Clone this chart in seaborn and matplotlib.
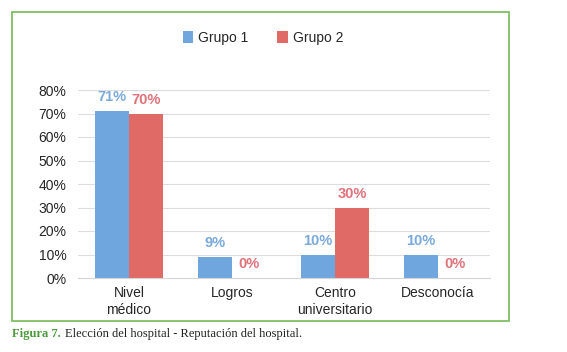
import pandas as pd
import matplotlib.pyplot as plt
import matplotlib.patches as mpatches
import seaborn as sns

# datos
categorias = ['Nivel\nmédico', 'Logros', 'Centro\nuniversitario', 'Desconocía']
grupo1 = [71, 9, 10, 10]
grupo2 = [70, 0, 30, 0]
grupos = ['Grupo 1', 'Grupo 2']
colores = ['#6fa6dd', '#e06a66']
colores_txt = ['#7aaadc', '#e0727a']

df = pd.DataFrame({
    'categoria': categorias * 2,
    'valor': grupo1 + grupo2,
    'grupo': [grupos[0]] * len(categorias) + [grupos[1]] * len(categorias),
})

sns.set_style('white')
plt.rcParams['font.family'] = ['Liberation Sans', 'DejaVu Sans']

fig = plt.figure(figsize=(5.67, 3.52), dpi=100)
ax = fig.add_axes([77.5 / 567, 1 - 278 / 352, (489.5 - 77.5) / 567, (278 - 90) / 352])

sns.barplot(data=df, x='categoria', y='valor', hue='grupo', palette=colores,
            width=0.66, saturation=1, linewidth=0, ax=ax, legend=True)

ax.set_ylim(0, 80)
ax.set_yticks(range(0, 81, 10))
ax.set_yticklabels([f'{v}%' for v in range(0, 81, 10)], fontsize=10)
ax.tick_params(axis='x', labelsize=10, length=0, pad=6)
ax.tick_params(axis='y', length=0, pad=8)
ax.yaxis.grid(True, color='#dddddd', lw=0.8)
ax.set_axisbelow(True)
ax.set_xlabel('')
ax.set_ylabel('')
for s in ['top', 'right', 'left']:
    ax.spines[s].set_visible(False)
ax.spines['bottom'].set_color('#d5d5d5')

# etiquetas de valores
for cont, c in zip(ax.containers, colores_txt):
    ax.bar_label(cont, labels=[f'{v:.0f}%' for v in cont.datavalues],
                 padding=5, color=c, fontsize=10.5, fontweight='bold')

leg = ax.legend(loc='center', bbox_to_anchor=(263 / 567, 1 - 38 / 352), bbox_transform=fig.transFigure,
                ncol=2, frameon=False, fontsize=10, handlelength=0.75, handleheight=1.0,
                handletextpad=0.35, columnspacing=2.1)

# marco verde
fig.patches.append(mpatches.Rectangle((12 / 567, 1 - 321 / 352), (509 - 12) / 567, (321 - 12) / 352,
                                      transform=fig.transFigure, fill=False,
                                      edgecolor='#7fbf62', lw=1.3))

# pie de figura
t1 = fig.text(12 / 567, 1 - 334 / 352, 'Figura 7.', color='#4a9a3c', fontsize=9,
              family='Liberation Serif', fontweight='bold', va='center')
fig.canvas.draw()
x_fin = t1.get_window_extent().x1 / fig.bbox.width
fig.text(x_fin + 4 / 567, 1 - 334 / 352, 'Elección del hospital - Reputación del hospital.',
         color='#222222', fontsize=9, family='Liberation Serif', va='center')

fig.savefig('out.png', dpi=100)
